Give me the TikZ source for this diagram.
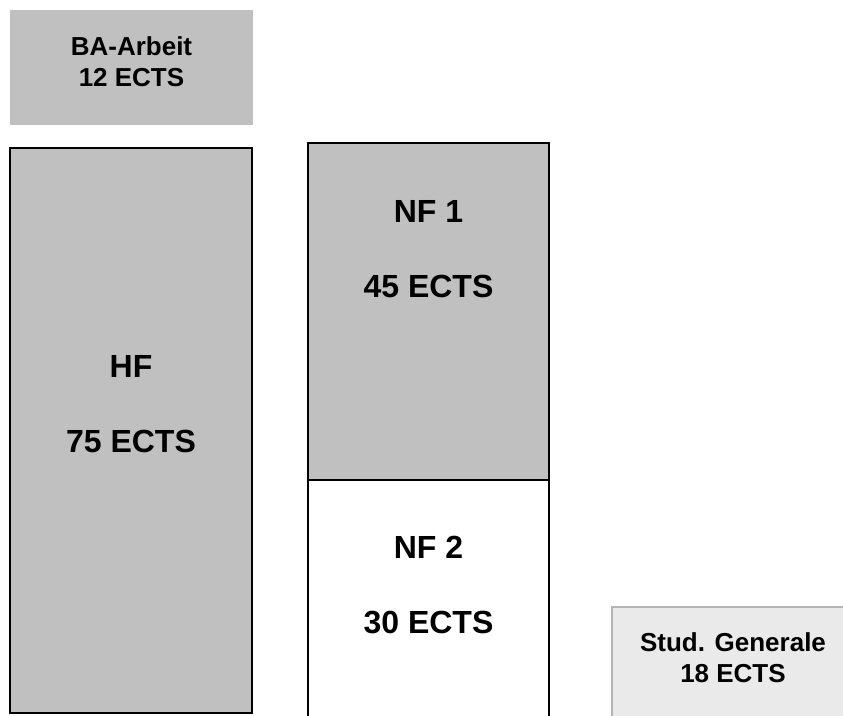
\documentclass[tikz,border=0pt]{standalone}
\usepackage{fontspec}
\setmainfont{Liberation Sans}
\usetikzlibrary{positioning}
\definecolor{boxgray}{HTML}{C0C0C0}
\definecolor{lightgray}{HTML}{EAEAEA}
\definecolor{edgegray}{HTML}{B4B4B4}
\tikzset{
    block/.style={draw=black,line width=1pt,fill=boxgray},
    bigtext/.style={align=center,font=\bfseries\fontsize{24}{56}\selectfont},
    smalltext/.style={align=center,font=\bfseries\fontsize{19.5}{23}\selectfont}
}
\begin{document}
\begin{tikzpicture}[x=0.75pt,y=-0.75pt]
    \useasboundingbox (0,0) rectangle (843,715);
    % Bachelorarbeit
    \fill[boxgray] (10,10) rectangle (253,125);
    \node[smalltext] (ba) at (131.5,62) {BA-Arbeit\\12 ECTS};
    % Hauptfach
    \draw[block] (10,148) rectangle (252,713);
    \node[bigtext] (hf) at (131,404) {HF\\75 ECTS};
    % Nebenfaecher
    \draw[draw=black,line width=1pt,fill=white] (308,480) rectangle (549,720);
    \draw[block] (308,143) rectangle (549,480);
    \node[bigtext] (nfa) at (428.5,249) {NF 1\\45 ECTS};
    \node[bigtext] (nfb) at (428.5,585) {NF 2\\30 ECTS};
    % Studium Generale
    \draw[draw=edgegray,line width=0.8pt,fill=lightgray] (612,607) rectangle (850,720);
    \node[smalltext] (sg) at (733,658) {Stud. Generale\\18 ECTS};
\end{tikzpicture}
\end{document}
